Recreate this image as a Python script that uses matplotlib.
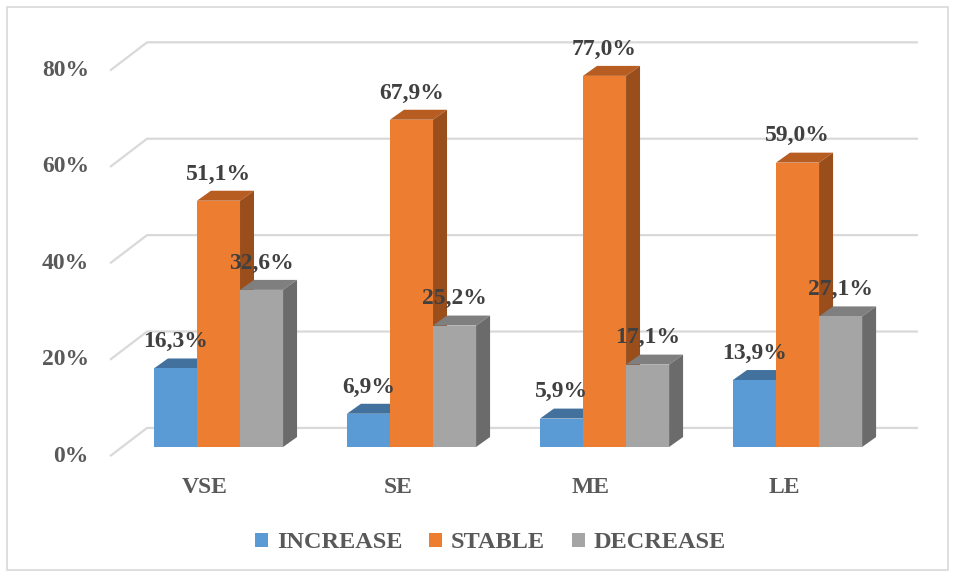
import matplotlib.pyplot as plt
from matplotlib.patches import Polygon, Patch, Rectangle

categories = ['VSE', 'SE', 'ME', 'LE']
series = ['INCREASE', 'STABLE', 'DECREASE']
increase = [16.3, 6.9, 5.9, 13.9]
stable = [51.1, 67.9, 77.0, 59.0]
decrease = [32.6, 25.2, 17.1, 27.1]
yticks = [0, 20, 40, 60, 80]

# front / top / side shades for each series
shades = [
    ('#5b9bd5', '#41719c', '#3f6d96'),
    ('#ed7d31', '#b85d22', '#9a4e1c'),
    ('#a5a5a5', '#7f7f7f', '#6b6b6b'),
]

plt.rcParams['font.family'] = ['Liberation Serif', 'DejaVu Serif']
plt.rcParams['font.weight'] = 'bold'

fig = plt.figure(figsize=(9.56, 5.77), dpi=100)
ax = fig.add_axes([0, 0, 1, 1])
ax.set_xlim(-1.132, 3.821)
ax.set_ylim(-26.97, 92.74)
ax.axis('off')

# fake 3D depth
bw = 0.223          # bar width
ddx, ddy = 0.0725, 2.07   # bar depth offset
gfx, gfy = -0.562, -1.9   # gridline front corner
gbx, gby = -0.370, 3.96   # gridline back corner
gend = 3.624

for t in yticks:
    ax.plot([gfx, gbx, gend], [t + gfy, t + gby, t + gby],
            color='#d9d9d9', lw=1.6, zorder=1, solid_capstyle='butt')
    ax.text(-0.671, t + gfy, f'{t}%', ha='right', va='center',
            fontsize=17, color='#595959')

data = [increase, stable, decrease]
for i, cat in enumerate(categories):
    for j, vals in enumerate(data):
        v = vals[i]
        x0 = i + (j - 1.5) * bw
        x1 = x0 + bw
        front, top, side = shades[j]
        ax.add_patch(Polygon([(x0, v), (x1, v), (x1 + ddx, v + ddy), (x0 + ddx, v + ddy)],
                             closed=True, facecolor=top, edgecolor='none', zorder=2))
        ax.add_patch(Polygon([(x1, 0), (x1 + ddx, ddy), (x1 + ddx, v + ddy), (x1, v)],
                             closed=True, facecolor=side, edgecolor='none', zorder=2))
        ax.add_patch(Rectangle((x0, 0), bw, v, facecolor=front, edgecolor='none', zorder=2))
        ax.text(x0 + bw / 2, v + ddy + 1.3, f'{v:.1f}%'.replace('.', ','),
                ha='center', va='bottom', fontsize=17, color='#404040', zorder=5)
    ax.text(i - 0.07, -8.3, cat, ha='center', va='center', fontsize=17, color='#595959')

handles = [Patch(facecolor=s[0], edgecolor='none') for s in shades]
fig.legend(handles, series, loc='center', bbox_to_anchor=(0.513, 1 - 543 / 577),
           ncol=3, frameon=False, handlelength=0.55, handleheight=0.55,
           handletextpad=0.35, columnspacing=1.1,
           prop={'size': 17.5, 'weight': 'bold'}, labelcolor='#595959')

fig.patches.append(Rectangle((7 / 956, 7 / 577), 941 / 956, 563 / 577,
                             transform=fig.transFigure, fill=False,
                             edgecolor='#d9d9d9', lw=1.2))

fig.savefig('out.png', dpi=100)
